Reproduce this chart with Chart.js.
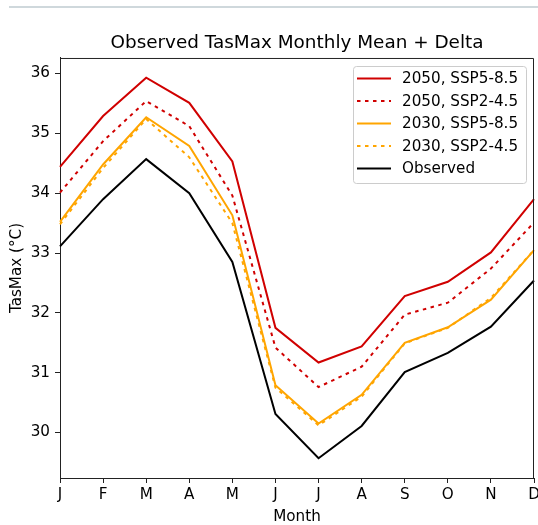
<!DOCTYPE html>
<html>
<head>
<meta charset="utf-8">
<script src="https://cdn.jsdelivr.net/npm/chart.js@4.4.1/dist/chart.umd.min.js"></script>
<style>
  html, body { margin: 0; padding: 0; background: #fff; }
  #wrap { position: relative; width: 538px; height: 525px; }
  #topline { position: absolute; left: 9px; top: 6px; width: 529px; height: 2px; background: #cfd8dc; }
</style>
</head>
<body>
<div id="wrap">
  <canvas id="chart" width="538" height="525"></canvas>
  <div id="topline"></div>
</div>
<script>
const months = ['J', 'F', 'M', 'A', 'M', 'J', 'J', 'A', 'S', 'O', 'N', 'D'];
const yTicks = [30, 31, 32, 33, 34, 35, 36];

const ssp585_2050 = [34.44, 35.29, 35.93, 35.51, 34.53, 31.75, 31.17, 31.44, 32.28, 32.52, 33.01, 33.90];
const ssp245_2050 = [34.01, 34.87, 35.54, 35.12, 33.96, 31.42, 30.76, 31.10, 31.97, 32.17, 32.74, 33.51];
const ssp585_2030 = [33.52, 34.48, 35.27, 34.79, 33.63, 30.79, 30.15, 30.63, 31.50, 31.76, 32.22, 33.05];
const ssp245_2030 = [33.48, 34.42, 35.24, 34.60, 33.50, 30.75, 30.12, 30.60, 31.49, 31.75, 32.25, 33.05];
const observed    = [33.11, 33.90, 34.57, 34.00, 32.85, 30.31, 29.57, 30.11, 31.01, 31.33, 31.77, 32.54];

const red = '#d00000';
const orange = '#ffa500';
const dotted = [3.5, 4.5];
const fontSize = 15.2;

// center the title over the plot area, like matplotlib does
const titleOverPlot = {
    id: 'titleOverPlot',
    afterLayout(chart) {
        const t = chart.titleBlock;
        if (!t) return;
        t.left = chart.chartArea.left;
        t.right = chart.chartArea.right;
        t.width = t.right - t.left;
    }
};

// matplotlib-like frame: top and right spines
const frame = {
    id: 'frame',
    afterDatasetsDraw(chart) {
        const { ctx, chartArea: a } = chart;
        ctx.save();
        ctx.strokeStyle = '#222';
        ctx.lineWidth = 1;
        ctx.beginPath();
        ctx.moveTo(a.left, a.top + 0.5);
        ctx.lineTo(a.right - 0.5, a.top + 0.5);
        ctx.lineTo(a.right - 0.5, a.bottom);
        ctx.stroke();
        ctx.restore();
    }
};

// legend box inside the plot, upper right
const boxLegend = {
    id: 'boxLegend',
    afterDraw(chart) {
        const ctx = chart.ctx;
        const x0 = 353, y0 = 66, w = 173, h = 117;
        ctx.save();
        ctx.fillStyle = 'rgba(255,255,255,0.8)';
        ctx.strokeStyle = '#cccccc';
        ctx.lineWidth = 1;
        ctx.beginPath();
        ctx.roundRect(x0 + 0.5, y0 + 0.5, w, h, 3);
        ctx.fill();
        ctx.stroke();
        ctx.font = fontSize + 'px "DejaVu Sans"';
        ctx.textBaseline = 'middle';
        chart.data.datasets.forEach((ds, i) => {
            const y = 78.5 + i * 22.5;
            ctx.strokeStyle = ds.borderColor;
            ctx.lineWidth = ds.borderWidth;
            ctx.setLineDash(ds.borderDash || []);
            ctx.beginPath();
            ctx.moveTo(357, y);
            ctx.lineTo(391, y);
            ctx.stroke();
            ctx.setLineDash([]);
            ctx.fillStyle = '#000';
            ctx.fillText(ds.label, 402, y + 1);
        });
        ctx.restore();
    }
};

new Chart(document.getElementById('chart'), {
    type: 'line',
    data: {
        labels: months,
        datasets: [
            { label: '2050, SSP5-8.5', data: ssp585_2050, borderColor: red, borderWidth: 2 },
            { label: '2050, SSP2-4.5', data: ssp245_2050, borderColor: red, borderWidth: 2, borderDash: dotted },
            { label: '2030, SSP5-8.5', data: ssp585_2030, borderColor: orange, borderWidth: 2 },
            { label: '2030, SSP2-4.5', data: ssp245_2030, borderColor: orange, borderWidth: 2, borderDash: dotted },
            { label: 'Observed', data: observed, borderColor: '#000', borderWidth: 2 }
        ]
    },
    options: {
        responsive: false,
        animation: false,
        elements: { point: { radius: 0 }, line: { tension: 0 } },
        layout: { padding: { top: 0, right: 4, bottom: 0, left: 0 } },
        plugins: {
            legend: { display: false },
            tooltip: { enabled: false },
            title: {
                display: true,
                text: 'Observed TasMax Monthly Mean + Delta',
                color: '#000',
                font: { family: 'DejaVu Sans', size: 18.4, weight: 'normal', lineHeight: 1.2 },
                padding: { top: 32, bottom: 3.9 }
            }
        },
        scales: {
            x: {
                offset: false,
                border: { color: '#222', width: 1 },
                grid: { drawOnChartArea: false, tickLength: 5, tickColor: '#222' },
                ticks: { color: '#000', padding: 2.5, maxRotation: 0, autoSkip: false,
                         font: { family: 'DejaVu Sans', size: fontSize } },
                title: { display: true, text: 'Month', color: '#000', padding: { top: 0, bottom: -1 },
                         font: { family: 'DejaVu Sans', size: fontSize } },
                afterFit(s) { s.height = 47; s.paddingLeft = 0; s.paddingRight = 0; }
            },
            y: {
                min: 29.24,
                max: 36.26,
                border: { color: '#222', width: 1 },
                grid: { drawOnChartArea: false, tickLength: 5, tickColor: '#222' },
                ticks: { color: '#000', padding: 5,
                         font: { family: 'DejaVu Sans', size: fontSize } },
                afterBuildTicks(s) { s.ticks = yTicks.map(v => ({ value: v })); },
                title: { display: true, text: 'TasMax (°C)', color: '#000', padding: { top: 7.5, bottom: 0 },
                         font: { family: 'DejaVu Sans', size: fontSize } },
                afterFit(s) { s.width = 60; s.paddingTop = 0; s.paddingBottom = 0; }
            }
        }
    },
    plugins: [titleOverPlot, frame, boxLegend]
});
</script>
</body>
</html>
